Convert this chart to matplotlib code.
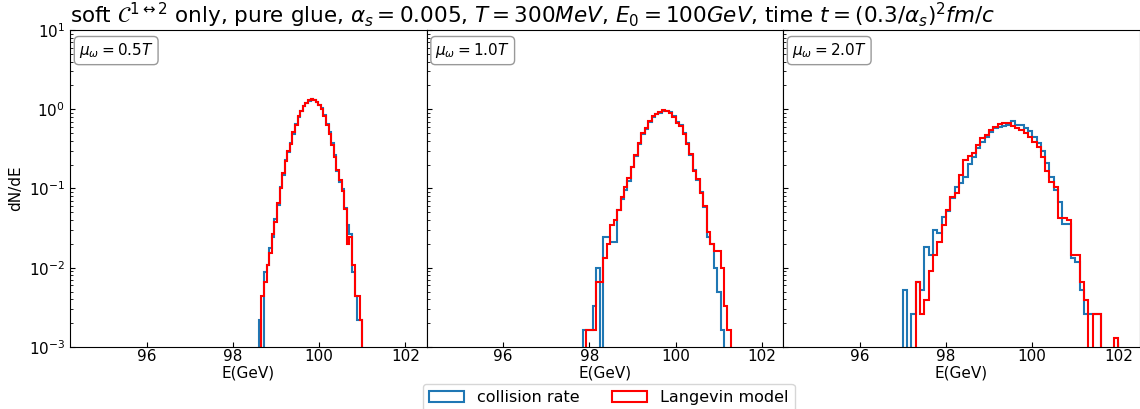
import numpy as np
import matplotlib
matplotlib.use('Agg')
import matplotlib.pyplot as plt

# --- 数据 (从图中读取的直方图计数) ---
n_events = 7600

mu_labels = [r'$\mu_\omega = 0.5T$', r'$\mu_\omega = 1.0T$', r'$\mu_\omega = 2.0T$']

# panel 1: mu = 0.5T, bins of 0.06 GeV starting at 98.60
e0_1, w_1 = 98.60, 0.06
coll_1 = [1, 0, 4, 5, 8, 11, 19, 28, 48, 68, 104, 132, 171, 224, 297, 365, 438, 498, 553, 584,
          616, 598, 566, 516, 466, 384, 301, 233, 169, 119, 75, 55, 45, 26, 16, 12, 4, 2, 1, 1, 0]
lang_1 = [0, 2, 3, 5, 7, 12, 17, 30, 46, 72, 100, 137, 167, 233, 292, 374, 434, 507, 543, 594,
          607, 589, 557, 521, 457, 370, 288, 224, 162, 114, 79, 58, 42, 25, 9, 11, 5, 2, 2, 1, 0]

# panel 2: mu = 1.0T, bins of 0.08 GeV starting at 97.84
e0_2, w_2 = 97.84, 0.08
coll_2 = [1, 1, 1, 2, 6, 0, 15, 15, 13, 13, 33, 45, 58, 76, 113, 155, 222, 300, 345, 420, 490, 525,
          550, 580, 585, 560, 505, 425, 380, 305, 228, 160, 105, 78, 55, 36, 15, 12, 6, 3, 1, 0, 0]
lang_2 = [0, 1, 1, 1, 4, 4, 8, 12, 21, 24, 33, 48, 64, 82, 115, 162, 226, 305, 350, 427, 495, 530,
          555, 588, 580, 545, 490, 410, 375, 300, 222, 165, 100, 80, 53, 37, 17, 12, 10, 10, 6, 2, 1]

# panel 3: mu = 2.0T, bins of 0.1 GeV starting at 97.0
e0_3, w_3 = 97.00, 0.10
coll_3 = [4, 0, 2, 5, 4, 14, 11, 23, 21, 33, 40, 57, 80, 90, 105, 157, 191, 245, 296, 341,
          396, 435, 455, 470, 482, 545, 482, 478, 440, 400, 340, 288, 227, 159, 105, 73, 52, 27, 27, 10,
          9, 4, 2, 2, 2, 2, 0, 0, 0, 0]
lang_3 = [0, 0, 0, 5, 2, 3, 7, 11, 16, 26, 41, 60, 66, 112, 173, 195, 212, 269, 326, 358,
          415, 456, 494, 503, 508, 466, 440, 415, 380, 340, 296, 255, 190, 125, 92, 80, 32, 32, 30, 11,
          11, 5, 3, 0, 2, 2, 0, 0, 0, 1]

panels = [(e0_1, w_1, coll_1, lang_1),
          (e0_2, w_2, coll_2, lang_2),
          (e0_3, w_3, coll_3, lang_3)]

x_ticks = [96, 98, 100, 102]

plt.rcParams['font.size'] = 11


def draw_hist(ax, e0, w, counts, color, label):
    counts = np.array(counts, dtype=float)
    edges = e0 + w * np.arange(len(counts) + 1)
    centers = 0.5 * (edges[:-1] + edges[1:])
    ax.hist(centers, bins=edges, weights=counts / (n_events * w), histtype='step',
            color=color, lw=1.5, label=label)


fig, axes = plt.subplots(1, 3, sharey=True, figsize=(11.4, 4.09), dpi=100)
fig.subplots_adjust(left=0.0614, right=0.9996, top=0.9267, bottom=0.1516, wspace=0)

for ax, (e0, w, coll, lang), lab in zip(axes, panels, mu_labels):
    draw_hist(ax, e0, w, coll, '#1f77b4', 'collision rate')
    draw_hist(ax, e0, w, lang, 'red', 'Langevin model')
    ax.set_yscale('log')
    ax.set_ylim(1e-3, 1e1)
    ax.set_xlim(94.22, 102.49)
    ax.set_xticks(x_ticks)
    ax.set_xlabel('E(GeV)', labelpad=1)
    ax.tick_params(which='both', direction='in')
    ax.tick_params(axis='x', pad=1.5)
    ax.text(0.025, 0.965, lab, transform=ax.transAxes, va='top', ha='left',
            bbox=dict(boxstyle='round,pad=0.3', fc='white', ec='0.6'))

axes[0].set_ylabel('dN/dE')
axes[0].set_title(r'soft $\mathcal{C}^{1\leftrightarrow 2}$ only, pure glue, $\alpha_s = 0.005$, '
                  r'$T = 300MeV$, $E_0 = 100GeV$, time $t = (0.3/\alpha_s)^2 fm/c$',
                  loc='left', fontsize=15.5, pad=2)

handles, labels = axes[0].get_legend_handles_labels()
fig.legend(handles, labels, loc='upper center', bbox_to_anchor=(0.534, 0.062), ncol=2,
           fontsize=11.5, handlelength=2.2, columnspacing=2.0, borderaxespad=0)

fig.savefig('out.png', dpi=100)
